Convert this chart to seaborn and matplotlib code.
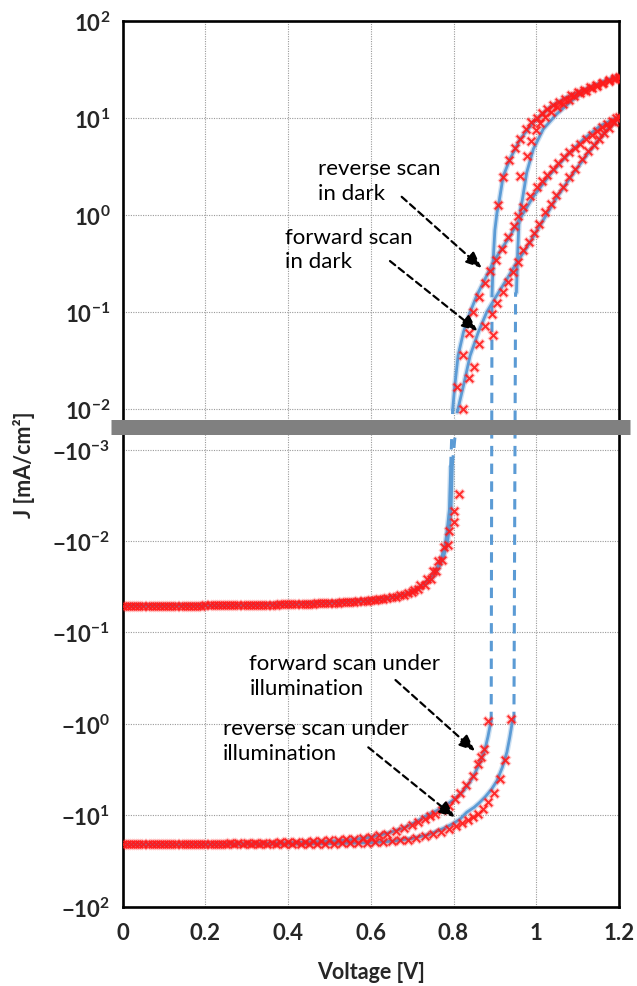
import numpy as np
import pandas as pd
import matplotlib
matplotlib.use("Agg")
import matplotlib.pyplot as plt
import seaborn as sns

# ---------------- data ----------------
# dark, forward scan: measured points
V_DF_NEG = [0.00, 0.02, 0.04, 0.06, 0.08, 0.10, 0.12, 0.14, 0.16, 0.18,
            0.20, 0.22, 0.24, 0.26, 0.28, 0.30, 0.32, 0.34, 0.36, 0.38,
            0.40, 0.42, 0.44, 0.46, 0.48, 0.50, 0.52, 0.54, 0.56, 0.58,
            0.60, 0.62, 0.64, 0.66, 0.68, 0.70, 0.715, 0.73, 0.745, 0.758,
            0.771, 0.787, 0.801, 0.814]
J_DF_NEG = [-0.0512, -0.0511, -0.0512, -0.0510, -0.0511, -0.0510, -0.0511, -0.0509, -0.0510, -0.0509,
            -0.0508, -0.0507, -0.0506, -0.0505, -0.0504, -0.0502, -0.0500, -0.0498, -0.0497, -0.0495,
            -0.0493, -0.0490, -0.0487, -0.0484, -0.0480, -0.0476, -0.0472, -0.0467, -0.0461, -0.0455,
            -0.0447, -0.0437, -0.0424, -0.0408, -0.0388, -0.0362, -0.0335, -0.0300, -0.0258, -0.0212,
            -0.0160, -0.0111, -0.0062, -0.0031]
V_DF_POS = [0.822, 0.838, 0.849, 0.862, 0.876, 0.892, 0.906, 0.919, 0.932, 0.943,
            0.957, 0.969, 0.983, 0.995, 1.007, 1.021, 1.035, 1.048, 1.064, 1.078,
            1.094, 1.110, 1.126, 1.140, 1.152, 1.164, 1.176, 1.188, 1.200]
J_DF_POS = [0.0101, 0.0208, 0.0273, 0.047, 0.071, 0.095, 0.124, 0.159, 0.205, 0.26,
            0.33, 0.43, 0.52, 0.65, 0.81, 1.06, 1.29, 1.6, 1.92, 2.44,
            2.97, 3.76, 4.58, 5.25, 6.04, 6.9, 7.9, 9.0, 10.1]

# dark, reverse scan: measured points
V_DR_NEG = [0.01, 0.03, 0.05, 0.07, 0.09, 0.11, 0.13, 0.15, 0.17, 0.19,
            0.21, 0.23, 0.25, 0.27, 0.29, 0.31, 0.33, 0.35, 0.37, 0.39,
            0.41, 0.43, 0.45, 0.47, 0.49, 0.51, 0.53, 0.55, 0.57, 0.59,
            0.61, 0.63, 0.65, 0.67, 0.69, 0.705, 0.72, 0.735, 0.75, 0.763,
            0.776, 0.788, 0.801]
J_DR_NEG = [-0.0514, -0.0513, -0.0513, -0.0512, -0.0512, -0.0511, -0.0511, -0.0510, -0.0510, -0.0509,
            -0.0508, -0.0507, -0.0506, -0.0505, -0.0504, -0.0502, -0.0500, -0.0499, -0.0497, -0.0495,
            -0.0492, -0.0489, -0.0486, -0.0483, -0.0479, -0.0475, -0.0470, -0.0465, -0.0458, -0.0450,
            -0.0441, -0.0429, -0.0414, -0.0395, -0.0370, -0.0342, -0.0306, -0.0262, -0.0213, -0.0165,
            -0.0118, -0.0077, -0.0047]
V_DR_POS = [0.808, 0.822, 0.837, 0.848, 0.862, 0.875, 0.888, 0.903, 0.916, 0.931,
            0.946, 0.957, 0.969, 0.985, 1.001, 1.013, 1.027, 1.041, 1.053, 1.067,
            1.080, 1.094, 1.106, 1.120, 1.134, 1.146, 1.158, 1.170, 1.182, 1.194]
J_DR_POS = [0.0168, 0.036, 0.061, 0.10, 0.143, 0.20, 0.264, 0.345, 0.45, 0.59,
            0.77, 0.98, 1.2, 1.57, 1.92, 2.25, 2.57, 2.96, 3.42, 3.92,
            4.41, 4.85, 5.37, 6.04, 6.64, 7.36, 7.98, 8.63, 9.33, 9.89]

# illuminated, forward scan: measured points
V_IF_NEG = [0.00, 0.02, 0.04, 0.06, 0.08, 0.10, 0.12, 0.14, 0.16, 0.18,
            0.20, 0.22, 0.24, 0.26, 0.28, 0.30, 0.32, 0.34, 0.36, 0.38,
            0.40, 0.42, 0.44, 0.46, 0.48, 0.50, 0.52, 0.54, 0.56, 0.58,
            0.60, 0.62, 0.64, 0.66, 0.68, 0.70, 0.715, 0.73, 0.742, 0.755,
            0.772, 0.788, 0.804, 0.816, 0.830, 0.846, 0.858, 0.867, 0.874, 0.883]
J_IF_NEG = [-20.8, -20.8, -20.8, -20.8, -20.7, -20.7, -20.7, -20.7, -20.6, -20.6,
            -20.6, -20.5, -20.5, -20.4, -20.4, -20.3, -20.2, -20.1, -20.0, -19.9,
            -19.8, -19.7, -19.5, -19.3, -19.1, -18.9, -18.7, -18.4, -18.1, -17.7,
            -17.2, -16.6, -15.9, -15.0, -14.0, -12.9, -11.9, -10.9, -10.2, -9.6,
            -8.8, -7.9, -6.7, -5.7, -4.7, -3.7, -2.75, -2.3, -1.89, -0.93]
V_IF_POS = [0.895, 0.908, 0.920, 0.935, 0.949, 0.961, 0.975, 0.987, 1.001, 1.013,
            1.027, 1.041, 1.055, 1.070, 1.085, 1.100, 1.115, 1.130, 1.145, 1.160,
            1.175, 1.190, 1.200]
J_IF_POS = [0.058, 1.27, 2.47, 3.7, 4.85, 6.04, 7.66, 8.97, 9.9, 11.1,
            12.3, 13.5, 14.6, 15.8, 17.0, 18.3, 19.5, 20.6, 21.8, 23.0,
            24.3, 25.6, 26.4]

# illuminated, reverse scan: measured points
V_IR_NEG = [0.01, 0.03, 0.05, 0.07, 0.09, 0.11, 0.13, 0.15, 0.17, 0.19,
            0.21, 0.23, 0.25, 0.27, 0.29, 0.31, 0.33, 0.35, 0.37, 0.39,
            0.41, 0.43, 0.45, 0.47, 0.49, 0.51, 0.53, 0.55, 0.57, 0.59,
            0.61, 0.63, 0.65, 0.67, 0.69, 0.71, 0.73, 0.75, 0.77, 0.79,
            0.805, 0.82, 0.835, 0.848, 0.860, 0.872, 0.884, 0.898, 0.912, 0.925,
            0.938]
J_IR_NEG = [-20.9, -20.9, -20.9, -20.9, -20.9, -20.9, -20.9, -20.9, -20.9, -20.9,
            -20.9, -20.9, -20.8, -20.8, -20.8, -20.8, -20.8, -20.8, -20.8, -20.8,
            -20.8, -20.7, -20.7, -20.6, -20.6, -20.5, -20.4, -20.3, -20.2, -20.0,
            -19.8, -19.6, -19.3, -18.9, -18.5, -17.9, -17.1, -16.2, -15.2, -14.1,
            -13.2, -12.3, -11.3, -10.6, -9.7, -8.6, -7.2, -5.7, -4.0, -2.5,
            -0.885]
V_IR_POS = [0.961, 0.978, 0.987, 1.000, 1.010, 1.022, 1.036, 1.050, 1.064, 1.078,
            1.092, 1.106, 1.120, 1.134, 1.148, 1.162, 1.176, 1.190, 1.200]
J_IR_POS = [2.5, 4.06, 5.8, 7.4, 8.8, 10.2, 11.5, 12.8, 14.0, 15.3,
            16.6, 17.8, 19.0, 20.2, 21.4, 22.7, 24.0, 25.2, 26.0]

# fitted (blue) curves
V_DF_FIT_NEG = [0.0, 0.1, 0.2, 0.3, 0.4, 0.5, 0.58, 0.62, 0.66, 0.692, 0.724, 0.748, 0.764, 0.776, 0.785, 0.790, 0.794, 0.797]
J_DF_FIT_NEG = [-0.0511, -0.0509, -0.0507, -0.0501, -0.0492, -0.0475, -0.0452, -0.0436, -0.0410, -0.0376, -0.0317, -0.0256, -0.0198, -0.0148, -0.0106, -0.0072, -0.0044, -0.0015]
V_DF_FIT_POS = [0.809, 0.824, 0.840, 0.860, 0.880, 0.904, 0.929, 0.953, 0.981, 1.020, 1.049, 1.090, 1.130, 1.170, 1.200]
J_DF_FIT_POS = [0.0092, 0.0174, 0.0354, 0.062, 0.099, 0.147, 0.218, 0.324, 0.49, 0.93, 1.5, 2.7, 4.6, 7.4, 10.0]

V_DR_FIT_NEG = [0.0, 0.1, 0.2, 0.3, 0.4, 0.5, 0.574, 0.614, 0.654, 0.687, 0.719, 0.743, 0.759, 0.771, 0.780, 0.785, 0.790, 0.793]
J_DR_FIT_NEG = [-0.0512, -0.0510, -0.0508, -0.0502, -0.0493, -0.0476, -0.0455, -0.0439, -0.0413, -0.0380, -0.0321, -0.0260, -0.0202, -0.0151, -0.0108, -0.0074, -0.0045, -0.00156]
V_DR_FIT_POS = [0.798, 0.803, 0.811, 0.824, 0.840, 0.856, 0.876, 0.896, 0.916, 0.936, 0.961, 0.993, 1.033, 1.074, 1.114, 1.154, 1.200]
J_DR_FIT_POS = [0.0100, 0.0174, 0.0354, 0.0621, 0.099, 0.147, 0.218, 0.324, 0.445, 0.60, 0.92, 1.55, 2.6, 4.1, 6.0, 8.2, 10.3]

V_IF_FIT_NEG = [0.0, 0.1, 0.2, 0.3, 0.4, 0.5, 0.55, 0.6, 0.64, 0.68, 0.71, 0.735, 0.76, 0.783, 0.80, 0.816, 0.83, 0.84, 0.85, 0.86, 0.868, 0.876, 0.883, 0.890]
J_IF_FIT_NEG = [-20.8, -20.8, -20.7, -20.5, -20.1, -19.3, -18.6, -17.4, -15.8, -13.8, -11.8, -10.1, -8.9, -7.7, -6.8, -5.9, -5.0, -4.3, -3.6, -2.9, -2.4, -1.9, -1.4, -0.96]
V_IF_FIT_POS = [0.893, 0.896, 0.900, 0.905, 0.910, 0.920, 0.937, 0.961, 0.993, 1.033, 1.074, 1.122, 1.160, 1.200]
J_IF_FIT_POS = [0.147, 0.35, 0.70, 1.05, 1.35, 2.5, 3.8, 6.0, 9.0, 12.8, 16.3, 19.8, 23.3, 27.0]

V_IR_FIT_NEG = [0.0, 0.1, 0.2, 0.3, 0.4, 0.5, 0.6, 0.65, 0.7, 0.74, 0.78, 0.80, 0.816, 0.832, 0.85, 0.864, 0.878, 0.892, 0.905, 0.918, 0.929, 0.936, 0.942]
J_IR_FIT_NEG = [-20.9, -20.9, -20.9, -20.8, -20.7, -20.5, -20.0, -19.3, -18.0, -16.3, -13.7, -12.3, -11.0, -9.3, -8.2, -7.2, -6.2, -5.2, -4.2, -3.0, -2.05, -1.4, -0.96]
V_IR_FIT_POS = [0.952, 0.955, 0.958, 0.962, 0.966, 0.977, 0.993, 1.017, 1.049, 1.090, 1.120, 1.160, 1.200]
J_IR_FIT_POS = [0.159, 0.40, 0.80, 1.15, 1.4, 2.74, 4.77, 7.66, 10.9, 15.6, 19.3, 23.0, 26.6]

# dashed connectors across J = 0 (end of negative branch -> start of positive branch)
V_DF_GAP = [0.797, 0.809]
J_DF_GAP = [-0.0015, 0.0092]
V_DR_GAP = [0.793, 0.798]
J_DR_GAP = [-0.00156, 0.0100]
V_IF_GAP = [0.891, 0.893]
J_IF_GAP = [-0.96, 0.147]
V_IR_GAP = [0.946, 0.950]
J_IR_GAP = [-0.96, 0.159]

X_TICKS = [0, 0.2, 0.4, 0.6, 0.8, 1.0, 1.2]
X_TICKLABELS = ["0", "0.2", "0.4", "0.6", "0.8", "1", "1.2"]
Y_TICKS = [100, 10, 1, 0.1, 0.01, -0.001, -0.01, -0.1, -1, -10, -100]
Y_TICKLABELS = [r"$10^{2}$", r"$10^{1}$", r"$10^{0}$", r"$10^{-1}$", r"$10^{-2}$",
                r"$-10^{-3}$", r"$-10^{-2}$", r"$-10^{-1}$", r"$-10^{0}$", r"$-10^{1}$", r"$-10^{2}$"]

# ---------------- style ----------------
sns.set_theme(style="white")
plt.rcParams['font.family'] = ['Lato', 'DejaVu Sans']
plt.rcParams['mathtext.fontset'] = 'custom'
plt.rcParams['mathtext.rm'] = 'Lato:bold'
plt.rcParams['mathtext.bf'] = 'Lato:bold'
plt.rcParams['mathtext.it'] = 'Lato:bold'
plt.rcParams['mathtext.default'] = 'rm'

BLUE = '#5B9BD5'
RED = '#FF1A1A'

# piecewise "split log" scale: negative decades, linear gap, positive decades
D_NEG = 91.4
D_POS = 97.07
P_NEG_END = 5 * D_NEG          # position of -1e-3
P_POS0 = 497.5                 # position of 1e-2
GAP_J = 1.1e-2


def fwd(J):
    J = np.array(J, dtype=float)
    shp = J.shape
    J = np.atleast_1d(J)
    out = np.full_like(J, np.nan)
    neg = J <= -1e-3
    pos = J >= 1e-2
    mid = ~(neg | pos) & np.isfinite(J)
    out[neg] = (2 - np.log10(-J[neg])) * D_NEG
    out[pos] = P_POS0 + (np.log10(J[pos]) + 2) * D_POS
    out[mid] = P_NEG_END + (J[mid] + 1e-3) / GAP_J * (P_POS0 - P_NEG_END)
    return out.reshape(shp)


def inv(p):
    p = np.array(p, dtype=float)
    shp = p.shape
    p = np.atleast_1d(p)
    out = np.full_like(p, np.nan)
    lo = p <= P_NEG_END
    hi = p >= P_POS0
    mid = ~(lo | hi) & np.isfinite(p)
    out[lo] = -10 ** (2 - p[lo] / D_NEG)
    out[hi] = 10 ** ((p[hi] - P_POS0) / D_POS - 2)
    out[mid] = -1e-3 + (p[mid] - P_NEG_END) / (P_POS0 - P_NEG_END) * GAP_J
    return out.reshape(shp)


fig = plt.figure(figsize=(6.37, 9.87), dpi=100)
ax = fig.add_axes([0.1926, 0.0805, 0.7791, 0.8975])
ax.set_yscale('function', functions=(fwd, inv))


def blue_line(V, J, dashed=False):
    if dashed:
        sns.lineplot(x=V, y=J, ax=ax, color=BLUE, lw=2.2, linestyle=(0, (3.4, 2.4)),
                     sort=False, estimator=None, zorder=2.1)
        return
    sns.lineplot(x=V, y=J, ax=ax, color=BLUE, lw=4.0, alpha=0.30,
                 sort=False, estimator=None, zorder=2)
    sns.lineplot(x=V, y=J, ax=ax, color=BLUE, lw=2.0,
                 sort=False, estimator=None, zorder=2.1)


def red_marks(V, J):
    sns.scatterplot(x=V, y=J, ax=ax, marker='x', color=RED, s=42, linewidth=3.2,
                    alpha=0.25, zorder=3)
    sns.scatterplot(x=V, y=J, ax=ax, marker='x', color=RED, s=30, linewidth=1.4,
                    alpha=0.9, zorder=3.1)


for V, J in [(V_DF_FIT_NEG, J_DF_FIT_NEG), (V_DF_FIT_POS, J_DF_FIT_POS),
             (V_DR_FIT_NEG, J_DR_FIT_NEG), (V_DR_FIT_POS, J_DR_FIT_POS),
             (V_IF_FIT_NEG, J_IF_FIT_NEG), (V_IF_FIT_POS, J_IF_FIT_POS),
             (V_IR_FIT_NEG, J_IR_FIT_NEG), (V_IR_FIT_POS, J_IR_FIT_POS)]:
    blue_line(V, J)
for V, J in [(V_DF_GAP, J_DF_GAP), (V_DR_GAP, J_DR_GAP),
             (V_IF_GAP, J_IF_GAP), (V_IR_GAP, J_IR_GAP)]:
    blue_line(V, J, dashed=True)
for V, J in [(V_DF_NEG, J_DF_NEG), (V_DF_POS, J_DF_POS),
             (V_DR_NEG, J_DR_NEG), (V_DR_POS, J_DR_POS),
             (V_IF_NEG, J_IF_NEG), (V_IF_POS, J_IF_POS),
             (V_IR_NEG, J_IR_NEG), (V_IR_POS, J_IR_POS)]:
    red_marks(V, J)

ax.set_xlim(0, 1.2)
ax.set_ylim(-100, 100)
ax.set_xticks(X_TICKS)
ax.set_xticklabels(X_TICKLABELS, fontsize=16, fontweight='bold')
ax.set_yticks(Y_TICKS)
ax.set_yticklabels(Y_TICKLABELS, fontsize=16)
ax.minorticks_off()
ax.tick_params(axis='both', length=0)
ax.tick_params(axis='x', pad=11)
ax.tick_params(axis='y', pad=9)
ax.grid(True, color='#9A9A9A', linestyle=(0, (1, 1.2)), linewidth=0.8)
ax.set_axisbelow(True)
for sp in ax.spines.values():
    sp.set_visible(True)
    sp.set_color('black')
    sp.set_linewidth(1.9)

ax.set_xlabel("Voltage [V]", fontsize=15.5, fontweight='bold', labelpad=13)
ax.set_ylabel("J [mA/cm²]", fontsize=15.5, fontweight='bold', labelpad=12)

# grey separator bar between positive and negative parts
ax.plot([-0.0242, 1.022], [0.5408, 0.5408], transform=ax.transAxes,
        color='#808080', lw=10.8, solid_capstyle='butt', clip_on=False, zorder=10)

# annotations
TXT = dict(transform=ax.transAxes, fontsize=16, ha='left', va='center',
           linespacing=1.3, color='black', zorder=11)
ax.text(0.3935, 0.8194, "reverse scan\nin dark", **TXT)
ax.text(0.327, 0.7423, "forward scan\nin dark", **TXT)
ax.text(0.2551, 0.2611, "forward scan under\nillumination", **TXT)
ax.text(0.2015, 0.1872, "reverse scan under\nillumination", **TXT)

ARROWS = [((0.5622, 0.8012), (0.7234, 0.7208)),
          ((0.5386, 0.7287), (0.7153, 0.6497)),
          ((0.5497, 0.2557), (0.7098, 0.1755)),
          ((0.4949, 0.1797), (0.6695, 0.1007))]
for (x0, y0), (x1, y1) in ARROWS:
    ax.annotate('', xy=(x1, y1), xytext=(x0, y0), xycoords='axes fraction',
                arrowprops=dict(arrowstyle='-|>,head_length=0.7,head_width=0.3',
                                color='black', lw=1.6, linestyle=(0, (3, 2)),
                                shrinkA=0, shrinkB=0, mutation_scale=14),
                zorder=11)

fig.savefig("out.png", dpi=100)
